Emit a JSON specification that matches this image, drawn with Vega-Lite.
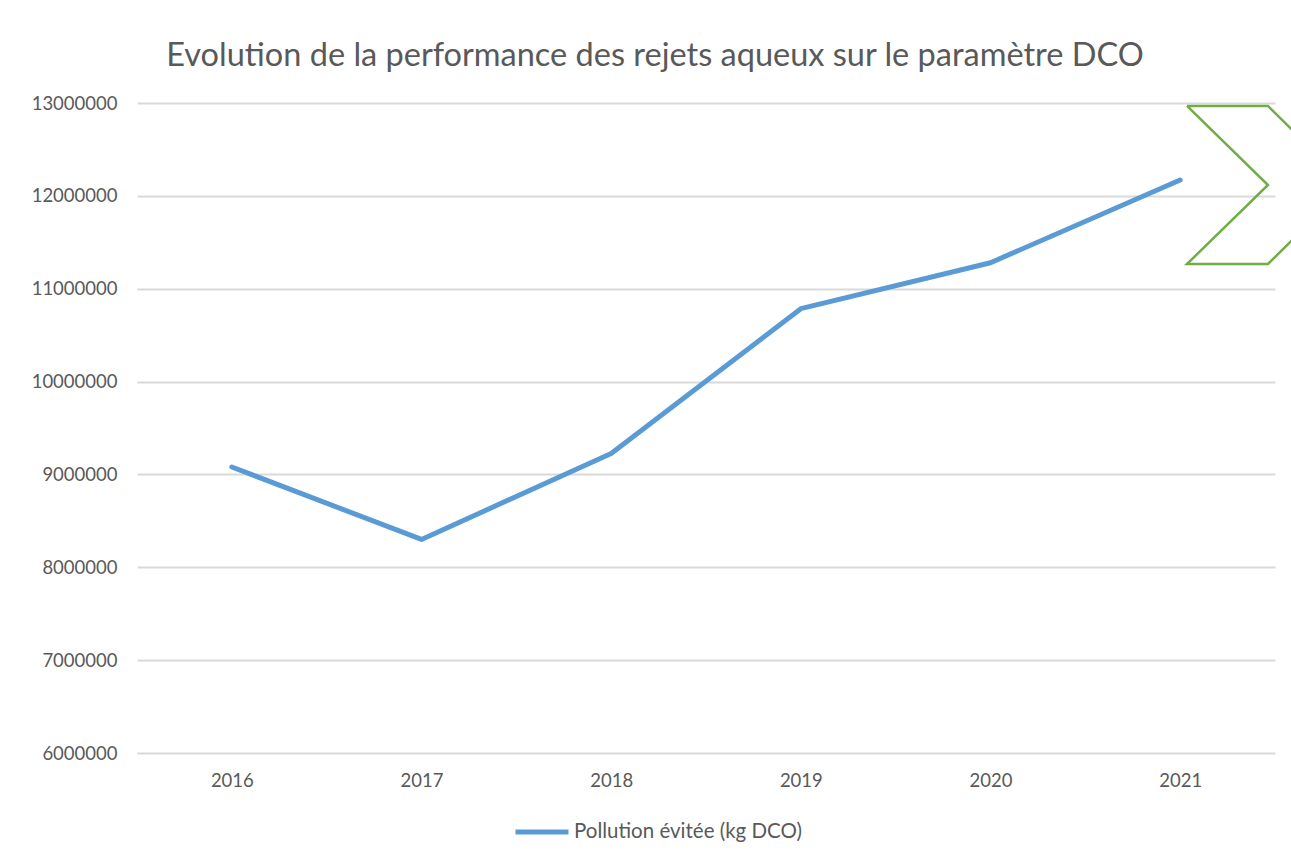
{
  "$schema": "https://vega.github.io/schema/vega-lite/v6.json",
  "autosize": "none",
  "width": 1138,
  "height": 650,
  "padding": {"left": 137, "top": 103, "right": 16, "bottom": 110},
  "background": "white",
  "config": {
    "view": {"stroke": null},
    "font": "Lato",
    "axis": {"labelFont": "Lato", "labelColor": "#595959", "labelFontSize": 18.5, "gridColor": "#d9d9d9", "gridWidth": 2, "domain": false, "ticks": false}
  },
  "title": {
    "text": "Evolution de la performance des rejets aqueux sur le paramètre DCO",
    "font": "Lato",
    "fontSize": 32.5,
    "fontWeight": "normal",
    "color": "#595959",
    "anchor": "middle",
    "dx": -51,
    "offset": 22
  },
  "datasets": {
    "main": [
      {"year": "2016", "value": 9080000, "series": "Pollution évitée (kg DCO)"},
      {"year": "2017", "value": 8300000, "series": "Pollution évitée (kg DCO)"},
      {"year": "2018", "value": 9225000, "series": "Pollution évitée (kg DCO)"},
      {"year": "2019", "value": 10785000, "series": "Pollution évitée (kg DCO)"},
      {"year": "2020", "value": 11280000, "series": "Pollution évitée (kg DCO)"},
      {"year": "2021", "value": 12170000, "series": "Pollution évitée (kg DCO)"}
    ],
    "chevron": [
      {"k": 0, "px": 2021.036, "py": 12968000},
      {"k": 1, "px": 2021.463, "py": 12968000},
      {"k": 2, "px": 2021.885, "py": 12117000},
      {"k": 3, "px": 2021.463, "py": 11266000},
      {"k": 4, "px": 2021.036, "py": 11266000},
      {"k": 5, "px": 2021.463, "py": 12117000},
      {"k": 6, "px": 2021.036, "py": 12968000}
    ]
  },
  "layer": [
    {
      "data": {"name": "main"},
      "mark": {"type": "line", "strokeWidth": 5, "strokeCap": "round", "strokeJoin": "round"},
      "encoding": {
        "x": {"field": "year", "type": "ordinal", "scale": {"type": "point", "padding": 0.5}, "axis": {"title": null, "labelAngle": 0, "grid": false, "labelPadding": 18}},
        "y": {"field": "value", "type": "quantitative", "scale": {"domain": [6000000, 13000000], "nice": false, "zero": false}, "axis": {"title": null, "values": [6000000, 7000000, 8000000, 9000000, 10000000, 11000000, 12000000, 13000000], "format": "d", "labelPadding": 20}},
        "color": {"field": "series", "type": "nominal", "scale": {"range": ["#5B9BD5"]}, "legend": {"title": null, "orient": "none", "legendX": 376, "legendY": 700, "symbolType": "stroke", "symbolSize": 2809, "symbolStrokeWidth": 5, "labelFontSize": 20.5, "labelColor": "#595959", "labelFont": "Lato", "labelOffset": 3, "labelLimit": 500}}
      }
    },
    {
      "data": {"name": "chevron"},
      "mark": {"type": "line", "color": "#70AD47", "strokeWidth": 2.5, "clip": false, "strokeJoin": "miter"},
      "encoding": {
        "x": {"field": "px", "type": "quantitative", "scale": {"domain": [2015.5, 2021.5], "nice": false, "zero": false}, "axis": null},
        "y": {"field": "py", "type": "quantitative"},
        "order": {"field": "k", "type": "quantitative"}
      }
    }
  ],
  "resolve": {"scale": {"x": "independent"}}
}
